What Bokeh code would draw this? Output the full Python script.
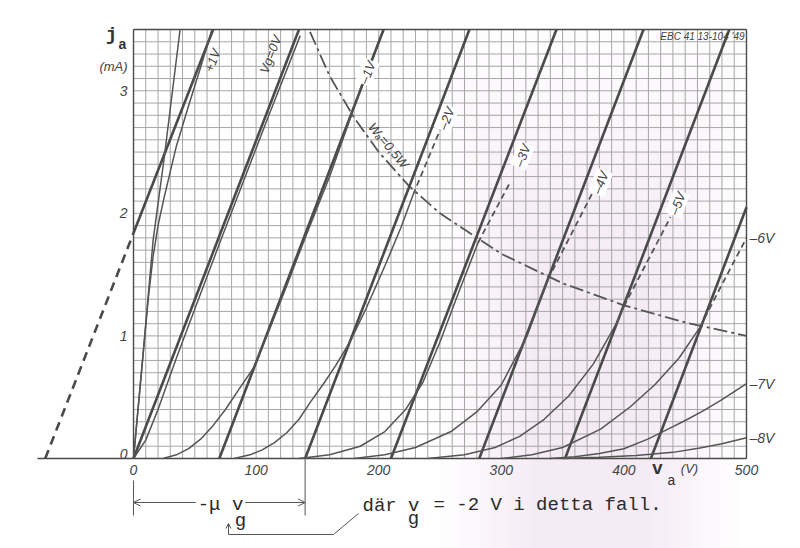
import numpy as np
from bokeh.plotting import figure
from bokeh.models import Range1d, Label, Arrow, OpenHead
from bokeh.core.properties import value
from bokeh.embed import file_html
from bokeh.resources import INLINE

# ---------------- data ----------------
x_ticks = [0, 100, 200, 300, 400, 500]
y_ticks = [0, 1, 2, 3]

# linearised characteristics (thick straight lines), one per grid voltage
lin_vg = ["+1V", "0V", "-1V", "-2V", "-3V", "-4V", "-5V", "-6V"]
lin_va0 = [-72, 0, 70, 140, 210, 282, 352, 422]
lin_va1 = [65, 135, 204, 274, 345, 416, 486, 500]
lin_ia1 = [3.5, 3.5, 3.5, 3.5, 3.5, 3.5, 3.5, 2.05]

# measured characteristics (thin curves), solid part up to the 0.5 W limit
cur_p1a_va = [0, 8, 16, 25, 38]
cur_p1a_ia = [0, 0.87, 1.78, 2.45, 3.5]
cur_p1b_va = [0, 8, 12, 16, 20, 25, 35, 45, 55, 64]
cur_p1b_ia = [0, 0.87, 1.30, 1.65, 1.90, 2.13, 2.55, 2.88, 3.2, 3.5]
cur_0_va = [0, 10, 20, 35, 50, 70, 90, 110, 136]
cur_0_ia = [0, 0.15, 0.4, 0.82, 1.22, 1.75, 2.27, 2.79, 3.45]
cur_m1_va = [24, 35, 45, 55, 65, 75, 85, 98, 110, 125, 140, 160, 177]
cur_m1_ia = [0, 0.03, 0.08, 0.16, 0.27, 0.40, 0.55, 0.74, 1.03, 1.41, 1.80, 2.30, 2.78]
cur_m2_va = [82, 95, 105, 115, 125, 135, 145, 155, 165, 177, 190, 205, 218, 228]
cur_m2_ia = [0, 0.03, 0.07, 0.13, 0.21, 0.32, 0.47, 0.61, 0.76, 0.96, 1.23, 1.57, 1.88, 2.15]
cur_m3_va = [135, 160, 185, 205, 222, 236, 250, 265, 281]
cur_m3_ia = [0, 0.03, 0.10, 0.22, 0.40, 0.62, 0.95, 1.35, 1.76]
cur_m4_va = [180, 205, 230, 259, 280, 300, 321, 338]
cur_m4_ia = [0, 0.03, 0.09, 0.22, 0.38, 0.60, 1.00, 1.46]
cur_m5_va = [240, 270, 295, 315, 335, 355, 375, 395, 400]
cur_m5_ia = [0, 0.03, 0.09, 0.18, 0.32, 0.51, 0.77, 1.12, 1.24]
cur_m6_va = [300, 325, 350, 381, 405, 425, 445, 462]
cur_m6_ia = [0, 0.03, 0.09, 0.24, 0.42, 0.60, 0.82, 1.07]
cur_m7_va = [340, 360, 380, 400, 420, 436, 450, 465, 480, 500]
cur_m7_ia = [0, 0.015, 0.04, 0.08, 0.16, 0.24, 0.31, 0.39, 0.48, 0.61]
cur_m8_va = [350, 380, 410, 440, 462, 480, 500]
cur_m8_ia = [0, 0.01, 0.025, 0.05, 0.085, 0.12, 0.17]

# dashed continuation above the 0.5 W limit
ext_m1_va = [177, 186]
ext_m1_ia = [2.78, 3.04]
ext_m2_va = [228, 250]
ext_m2_ia = [2.15, 2.68]
ext_m3_va = [281, 307]
ext_m3_ia = [1.76, 2.25]
ext_m4_va = [338, 374]
ext_m4_ia = [1.46, 2.16]
ext_m5_va = [400, 438]
ext_m5_ia = [1.24, 1.97]
ext_m6_va = [462, 480, 500]
ext_m6_ia = [1.07, 1.42, 1.80]

# anode dissipation limit Wa = 0.5 W
wa_va = [144, 160, 180, 200, 225, 250, 300, 350, 400, 450, 500]
wa_ia = [3.48, 3.12, 2.78, 2.50, 2.22, 2.00, 1.67, 1.43, 1.25, 1.11, 1.00]

# ---------------- geometry ----------------
PXV = 1.226        # px per volt
PXI = 122.57       # px per mA
OX, OY = 133, 458  # page pixel of the origin
W, H = 800, 548


def dx(px):
    return (px - OX) / PXV


def dy(py):
    return (OY - py) / PXI


p = figure(width=W, height=H,
           x_range=Range1d(dx(0), dx(W)), y_range=Range1d(dy(H), dy(0)),
           x_axis_type=None, y_axis_type=None, toolbar_location=None,
           output_backend="svg", min_border=0, outline_line_color=None,
           background_fill_color="white", border_fill_color="white")

# faint pink tint of the scanned paper (soft, built from many translucent layers)
NL = 10
for k in range(NL):
    f = k / (NL - 1)
    p.quad(left=dx(440 + 90 * f), right=dx(740 - 90 * f), bottom=dy(H),
           top=dy(30 + 220 * f), fill_color="#ecd2ef", fill_alpha=0.045, line_color=None)

# graph paper
GRID = "#a6a6a6"
gv = np.arange(0, 501, 10)
p.segment(x0=gv, y0=0, x1=gv, y1=3.5, line_color=GRID, line_width=1)
gh = np.round(np.arange(0, 3.51, 0.1), 2)
p.segment(x0=0, y0=gh, x1=500, y1=gh, line_color=GRID, line_width=1)

# frame
INK = "#4a4a4a"
p.segment(x0=[0, 0, 500], y0=[0, 3.5, 0], x1=[0, 500, 500], y1=[3.5, 3.5, 3.5],
          line_color=INK, line_width=1.4)
p.segment(x0=[dx(37)], y0=[0], x1=[500], y1=[0], line_color=INK, line_width=1.6)

# Wa hyperbola
p.line(wa_va, wa_ia, line_color="#555555", line_width=1.8, line_dash="14 4 3 4")

# straight lines
for v0, v1, i1 in zip(lin_va0, lin_va1, lin_ia1):
    if v0 < 0:
        i_at0 = i1 * (0 - v0) / (v1 - v0)
        p.line([v0, 0], [0, i_at0], line_color=INK, line_width=2.6, line_dash="9 6")
        p.line([0, v1], [i_at0, i1], line_color=INK, line_width=2.6)
    else:
        p.line([v0, v1], [0, i1], line_color=INK, line_width=2.6)

# curves
curves = [(cur_p1a_va, cur_p1a_ia), (cur_p1b_va, cur_p1b_ia), (cur_0_va, cur_0_ia),
          (cur_m1_va, cur_m1_ia), (cur_m2_va, cur_m2_ia), (cur_m3_va, cur_m3_ia),
          (cur_m4_va, cur_m4_ia), (cur_m5_va, cur_m5_ia), (cur_m6_va, cur_m6_ia),
          (cur_m7_va, cur_m7_ia), (cur_m8_va, cur_m8_ia)]
for va, ia in curves:
    p.line(va, ia, line_color="#555555", line_width=1.5)
exts = [(ext_m1_va, ext_m1_ia), (ext_m2_va, ext_m2_ia), (ext_m3_va, ext_m3_ia),
        (ext_m4_va, ext_m4_ia), (ext_m5_va, ext_m5_ia), (ext_m6_va, ext_m6_ia)]
for va, ia in exts:
    p.line(va, ia, line_color="#555555", line_width=1.8, line_dash="6 4")

# tick labels
SANS = value("Liberation Sans")
p.text(x=x_ticks, y=[dy(469)] * len(x_ticks), text=[str(t) for t in x_ticks],
       text_font=SANS, text_font_style="italic", text_font_size="14px",
       text_color="#444444", text_align="center", text_baseline="middle")
p.text(x=[dx(127)] * len(y_ticks), y=y_ticks, text=[str(t) for t in y_ticks],
       y_offset=[-5 if t == 0 else 0 for t in y_ticks],
       text_font=SANS, text_font_style="italic", text_font_size="14px",
       text_color="#444444", text_align="right", text_baseline="middle")

# axis titles
p.add_layout(Label(x=dx(111), y=dy(34), text="j", text_font="Liberation Mono",
                   text_font_style="bold", text_font_size="19px", text_color="#333",
                   text_align="center", text_baseline="middle"))
p.add_layout(Label(x=dx(122), y=dy(43), text="a", text_font="Liberation Sans",
                   text_font_style="bold", text_font_size="14px", text_color="#333",
                   text_align="center", text_baseline="middle"))
p.add_layout(Label(x=dx(113), y=dy(66), text="(mA)", text_font="Liberation Sans",
                   text_font_style="italic", text_font_size="13px", text_color="#444",
                   text_align="center", text_baseline="middle"))
p.add_layout(Label(x=dx(657), y=dy(468), text="v", text_font="Liberation Mono",
                   text_font_style="bold", text_font_size="18px", text_color="#333",
                   text_align="center", text_baseline="middle"))
p.add_layout(Label(x=dx(671), y=dy(480), text="a", text_font="Liberation Mono",
                   text_font_size="14px", text_color="#333",
                   text_align="center", text_baseline="middle"))
p.add_layout(Label(x=dx(689), y=dy(468), text="(V)", text_font="Liberation Sans",
                   text_font_style="italic", text_font_size="13px", text_color="#444",
                   text_align="center", text_baseline="middle"))
p.add_layout(Label(x=dx(744), y=dy(36), text="EBC 41 13-104 '49", text_font="Liberation Sans",
                   text_font_style="italic", text_font_size="10px", text_color="#444",
                   text_align="right", text_baseline="middle"))

# right-hand labels at ends of curves
for lab, ia in [("–6V", ext_m6_ia[-1]), ("–7V", cur_m7_ia[-1]), ("–8V", cur_m8_ia[-1])]:
    p.add_layout(Label(x=500, y=ia, x_offset=3, text=lab, text_font="Liberation Sans",
                       text_font_style="italic", text_font_size="14px", text_color="#444",
                       text_align="left", text_baseline="middle"))

# rotated curve labels
ANG = np.deg2rad(69)
rot = [("+1V", 212, 60, False), ("Vg=0V", 270, 54, False), ("–1V", 367, 72, True),
       ("–2V", 446, 118, True), ("–3V", 522, 155, True), ("–4V", 600, 182, True),
       ("–5V", 677, 203, True)]
for lab, sx, sy, bg in rot:
    p.add_layout(Label(x=dx(sx), y=dy(sy), text=lab, angle=ANG, text_font="Liberation Sans",
                       text_font_style="italic", text_font_size="13px", text_color="#444",
                       text_align="center", text_baseline="middle",
                       background_fill_color="white" if bg else None, padding=1))
p.add_layout(Label(x=dx(388), y=dy(145), text="Wₐ=0,5W", angle=np.deg2rad(-50),
                   text_font="Liberation Sans", text_font_style="italic", text_font_size="13px",
                   text_color="#444", text_align="center", text_baseline="middle"))

# -mu vg dimension
TW = "Liberation Mono"
p.segment(x0=[0, lin_va0[3]], y0=[dy(480), 0], x1=[0, lin_va0[3]], y1=[dy(515), dy(515)],
          line_color="#555", line_width=1)
p.add_layout(Arrow(x_start=0, y_start=dy(502), x_end=lin_va0[3], y_end=dy(502),
                   start=OpenHead(size=7, line_width=1, line_color="#555"),
                   end=OpenHead(size=7, line_width=1, line_color="#555"),
                   line_color="#555", line_width=1))
p.add_layout(Label(x=dx(220), y=dy(504), text="-μ v", text_font=TW, text_font_size="19px",
                   text_color="#2a2a2a", text_align="center", text_baseline="middle",
                   background_fill_color="white", padding=2))
p.add_layout(Label(x=dx(240), y=dy(520), text="g", text_font=TW, text_font_size="19px",
                   text_color="#2a2a2a", text_align="center", text_baseline="middle"))
p.add_layout(Arrow(x_start=dx(228), y_start=dy(534), x_end=dx(228), y_end=dy(523),
                   end=OpenHead(size=5, line_width=1, line_color="#555"),
                   line_color="#555", line_width=1))
p.line([dx(228), dx(333), dx(358)], [dy(534), dy(534), dy(513)], line_color="#555", line_width=1)
p.add_layout(Label(x=dx(362), y=dy(505), text="där v", text_font=TW, text_font_size="19px",
                   text_color="#2a2a2a", text_align="left", text_baseline="middle"))
p.add_layout(Label(x=dx(413), y=dy(518), text="g", text_font=TW, text_font_size="19px",
                   text_color="#2a2a2a", text_align="center", text_baseline="middle"))
p.add_layout(Label(x=dx(433), y=dy(504), text="= -2 V i detta fall.", text_font=TW,
                   text_font_size="19px", text_color="#2a2a2a", text_align="left",
                   text_baseline="middle"))

open("out.html", "w").write(file_html(p, INLINE))
